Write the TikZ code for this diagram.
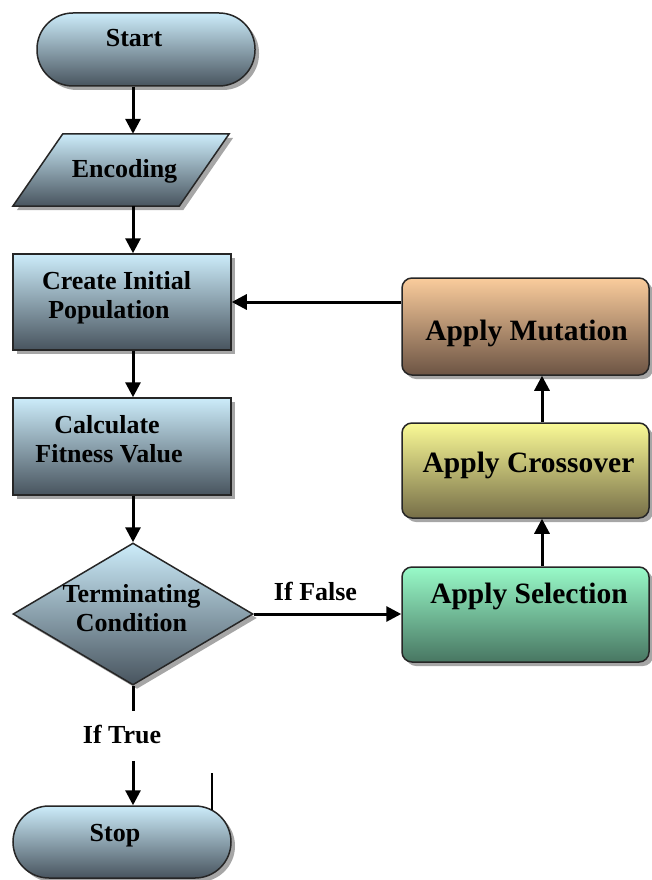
\documentclass[tikz,border=0pt]{standalone}
\usepackage{fontspec}
\setmainfont{Liberation Serif}
\usetikzlibrary{arrows.meta,shadows,shapes.geometric}

\definecolor{bluetop}{RGB}{204,236,250}
\definecolor{bluebot}{RGB}{72,84,94}
\definecolor{muttop}{RGB}{250,204,156}
\definecolor{mutbot}{RGB}{108,84,68}
\definecolor{crotop}{RGB}{250,250,150}
\definecolor{crobot}{RGB}{118,110,72}
\definecolor{seltop}{RGB}{152,250,200}
\definecolor{selbot}{RGB}{72,118,98}

\tikzset{
  boxshadow/.style={general shadow={shadow xshift=4pt, shadow yshift=-4pt,
      fill=black, fill opacity=0.35}},
  bluefill/.style={top color=bluetop, bottom color=bluebot},
  blk/.style={draw=black!85, line width=1.5pt, inner sep=0pt, boxshadow, bluefill},
  terminal/.style={blk, rectangle, rounded corners=36pt},
  procbox/.style={blk, rectangle},
  decision/.style={blk, diamond},
  opbox/.style={draw=black!85, line width=1.5pt, inner sep=0pt, rectangle,
      rounded corners=10pt, boxshadow, minimum width=247pt},
  lefttxt/.style={font=\fontsize{26}{29}\selectfont\bfseries, anchor=base, inner sep=0pt},
  righttxt/.style={font=\fontsize{29.5}{32}\selectfont\bfseries, anchor=base, inner sep=0pt},
  arr/.style={line width=3pt, -{Triangle[length=15pt,width=15pt]}},
  plainline/.style={line width=3pt}
}

\begin{document}
\begin{tikzpicture}[x=1pt,y=-1pt]
\useasboundingbox (0,0) rectangle (652,880);
\fill[white] (0,0) rectangle (652,880);

% vertical axes of the two columns of connectors
\coordinate (spine) at (133,0);
\coordinate (rspine) at (542,0);

% --- left column ---
\node[terminal, minimum width=218pt, minimum height=73pt] (start) at (146,49.5) {};
\node[lefttxt] at (134,47) {Start};

% encoding: a slanted parallelogram laid over a bounding node
\node[inner sep=0pt, minimum width=216pt, minimum height=72pt] (enc) at (121,170) {};
\path[draw=black!85, line width=1.5pt, bluefill, boxshadow]
  (enc.south west) -- ([xshift=50pt]enc.north west) -- (enc.north east)
  -- ([xshift=-50pt]enc.south east) -- cycle;
\node[lefttxt] at (124.5,177) {Encoding};

\node[procbox, minimum width=218pt, minimum height=96pt] (create) at (122,302) {};
\node[lefttxt] at (116.5,289) {Create Initial};
\node[lefttxt] at (109,318) {Population};

\node[procbox, minimum width=218pt, minimum height=97pt] (calc) at (122,446.5) {};
\node[lefttxt] at (107,433) {Calculate};
\node[lefttxt] at (109,462) {Fitness Value};

\node[decision, minimum width=240pt, minimum height=142pt] (dia) at (133,614) {};
\node[lefttxt] at (131.5,602) {Terminating};
\node[lefttxt] at (131.5,631) {Condition};

\node[terminal, minimum width=218pt, minimum height=72pt] (stop) at (122,842) {};
\node[lefttxt] at (115,841) {Stop};

% --- right column ---
\node[opbox, minimum height=97pt, top color=muttop, bottom color=mutbot] (mut) at (525.5,326.5) {};
\node[righttxt] at (526.5,340) {Apply Mutation};

\node[opbox, minimum height=95pt, top color=crotop, bottom color=crobot] (cro) at (525.5,470.5) {};
\node[righttxt] at (528.5,472) {Apply Crossover};

\node[opbox, minimum height=95pt, top color=seltop, bottom color=selbot] (sel) at (525.5,614.5) {};
\node[righttxt] at (529,603) {Apply Selection};

% --- connectors ---
\draw[arr] (start.south -| spine) -- (enc.north -| spine);
\draw[arr] (enc.south -| spine) -- (create.north -| spine);
\draw[arr] (create.south -| spine) -- (calc.north -| spine);
\draw[arr] (calc.south -| spine) -- (dia.north);

% the "true" branch is split by its label
\coordinate (truestub) at ([yshift=-25pt]dia.south);
\coordinate (truegap) at ([yshift=-75pt]dia.south);
\draw[plainline] (dia.south) -- (truestub);
\node[lefttxt] at (122,743) {If True};
\draw[arr] (truegap) -- (stop.north -| spine);

\draw[arr] (dia.east) -- (sel.west |- dia.east);
\node[lefttxt] at (315.5,600) {If False};

\draw[arr] (sel.north -| rspine) -- (cro.south -| rspine);
\draw[arr] (cro.north -| rspine) -- (mut.south -| rspine);
\draw[arr] (create.east -| mut.west) -- (create.east);

% short upright stroke standing on the stop terminal
\coordinate (tickbot) at (212,810);
\draw[line width=1.5pt] (tickbot) -- ++(0,-37);
\end{tikzpicture}
\end{document}
